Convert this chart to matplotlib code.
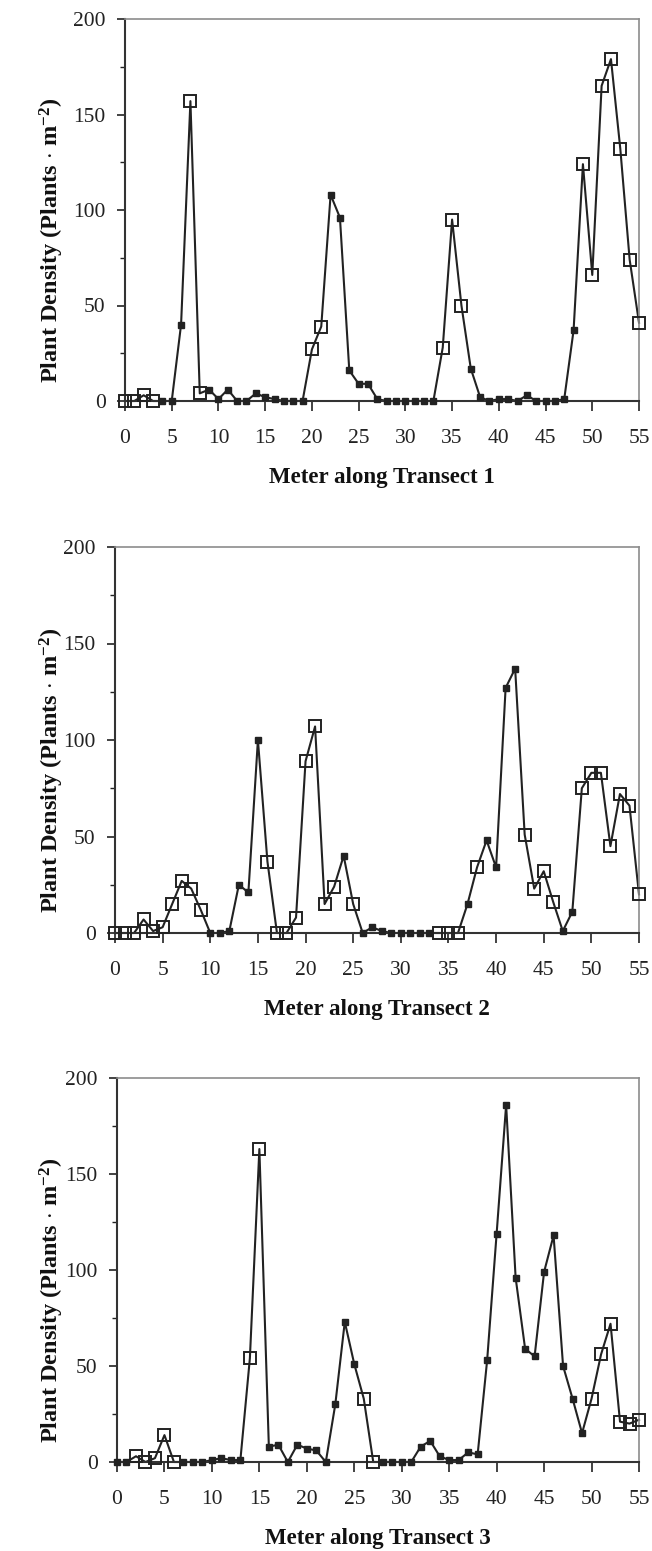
import matplotlib
matplotlib.use("Agg")
import matplotlib.pyplot as plt
from matplotlib.ticker import MultipleLocator

plt.rcParams['font.family'] = ['Liberation Serif', 'DejaVu Serif']
plt.rcParams['mathtext.fontset'] = 'custom'
plt.rcParams['mathtext.rm'] = 'Liberation Serif:bold'
plt.rcParams['mathtext.it'] = 'Liberation Serif:bold:italic'
plt.rcParams['mathtext.bf'] = 'Liberation Serif:bold'

meters = list(range(56))

# plant density per meter, transect 1..3
t1 = [0, 0, 3, 0, 0, 0, 40, 157, 4, 6, 1, 6, 0, 0, 4, 2, 1, 0, 0, 0,
      27, 39, 108, 96, 16, 9, 9, 1, 0, 0, 0, 0, 0, 0, 28, 95, 50, 17, 2, 0,
      1, 1, 0, 3, 0, 0, 0, 1, 37, 124, 66, 165, 179, 132, 74, 41]
t2 = [0, 0, 0, 7, 1, 3, 15, 27, 23, 12, 0, 0, 1, 25, 21, 100, 37, 0, 0, 8,
      89, 107, 15, 24, 40, 15, 0, 3, 1, 0, 0, 0, 0, 0, 0, 0, 0, 15, 34, 48,
      34, 127, 137, 51, 23, 32, 16, 1, 11, 75, 83, 83, 45, 72, 66, 20]
t3 = [0, 0, 3, 0, 2, 14, 0, 0, 0, 0, 1, 2, 1, 1, 54, 163, 8, 9, 0, 9,
      7, 6, 0, 30, 73, 51, 33, 0, 0, 0, 0, 0, 8, 11, 3, 1, 1, 5, 4, 53,
      119, 186, 96, 59, 55, 99, 118, 50, 33, 15, 33, 56, 72, 21, 20, 22]

# meters drawn with an open square (the rest are small filled squares)
open1 = [0, 1, 2, 3, 7, 8, 20, 21, 34, 35, 36, 49, 50, 51, 52, 53, 54, 55]
open2 = [0, 1, 2, 3, 4, 5, 6, 7, 8, 9, 16, 17, 18, 19, 20, 21, 22, 23, 25,
         34, 35, 36, 38, 43, 44, 45, 46, 49, 50, 51, 52, 53, 54, 55]
open3 = [2, 3, 4, 5, 6, 14, 15, 26, 27, 50, 51, 52, 53, 54, 55]

xlabels = ["Meter along Transect 1", "Meter along Transect 2", "Meter along Transect 3"]
ylabel = r"Plant Density (Plants $\cdot$ m$^{-2}$)"

W, H = 652, 1551
fig = plt.figure(figsize=(W / 100, H / 100), dpi=100)

# axes boxes in pixels: left, top, right, bottom
boxes = [(125, 19, 639, 401), (115, 547, 639, 933), (117, 1078, 639, 1462)]

dark = "#222222"
for vals, opens, xl, (l, t, r, b) in zip([t1, t2, t3], [open1, open2, open3], xlabels, boxes):
    ax = fig.add_axes([l / W, 1 - b / H, (r - l) / W, (b - t) / H])
    ax.plot(meters, vals, color=dark, lw=1.5, zorder=2, clip_on=False)
    xo = [meters[i] for i in opens]
    yo = [vals[i] for i in opens]
    xf = [m for m in meters if m not in opens]
    yf = [vals[m] for m in meters if m not in opens]
    ax.plot(xf, yf, ls="none", marker="s", ms=5, mfc=dark, mec=dark, zorder=3, clip_on=False)
    ax.plot(xo, yo, ls="none", marker="s", ms=8.5, mfc="none", mec=dark, mew=1.4, zorder=4, clip_on=False)

    ax.set_xlim(0, 55)
    ax.set_ylim(0, 200)
    ax.xaxis.set_major_locator(MultipleLocator(5))
    ax.yaxis.set_major_locator(MultipleLocator(50))
    ax.yaxis.set_minor_locator(MultipleLocator(25))
    ax.tick_params(axis="x", which="major", direction="out", length=7, width=1.2,
                   pad=13, labelsize=15.5, colors=dark)
    ax.tick_params(axis="y", which="major", direction="out", length=6, width=1.2,
                   pad=8, labelsize=15.5, colors=dark)
    ax.tick_params(axis="y", which="minor", direction="out", length=3.5, width=1.0, colors=dark)

    for s in ["left", "bottom"]:
        ax.spines[s].set_color("#333333")
        ax.spines[s].set_linewidth(1.5)
    for s in ["top", "right"]:
        ax.spines[s].set_color("#8c8c8c")
        ax.spines[s].set_linewidth(1.2)

    ax.set_xlabel(xl, fontsize=16.5, fontweight="bold", color="#111111", labelpad=14)
    ax.set_ylabel(ylabel, fontsize=17.5, fontweight="bold", color="#111111")
    ax.yaxis.set_label_coords((66 - l) / (r - l), 0.42)

fig.savefig("out.png", dpi=100)
